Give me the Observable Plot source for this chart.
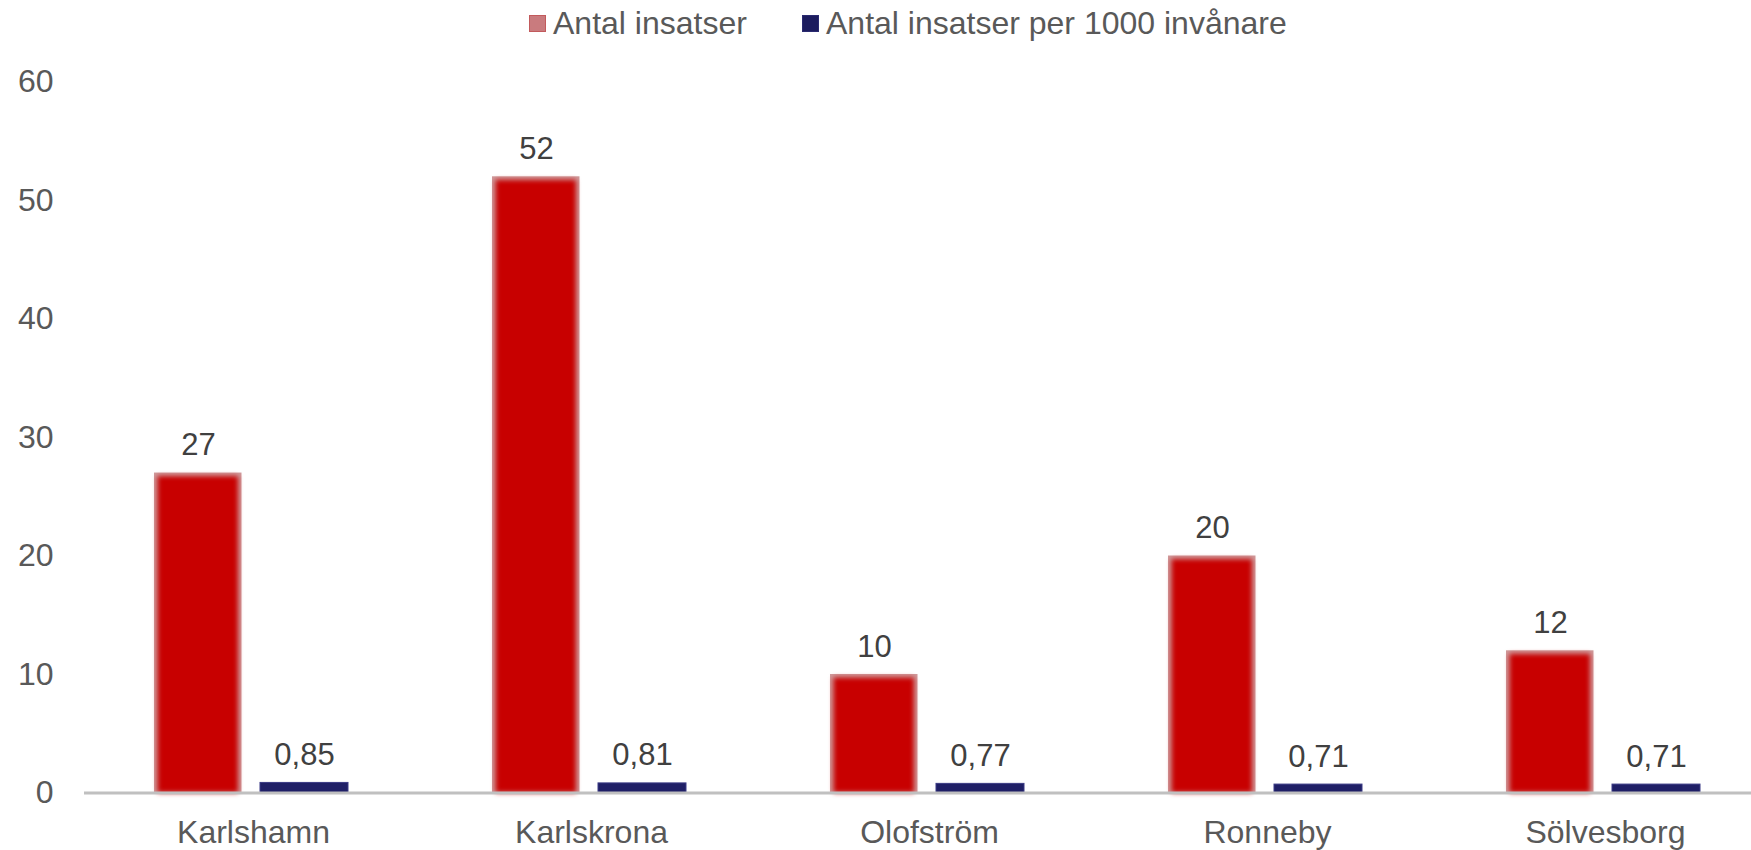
<!DOCTYPE html>
<html>
<head>
<meta charset="utf-8">
<script src="https://cdn.jsdelivr.net/npm/d3@7"></script>
<script src="https://cdn.jsdelivr.net/npm/@observablehq/plot@0.6"></script>
<style>
  html, body { margin: 0; padding: 0; background: #fff; }
  body { width: 1751px; height: 850px; overflow: hidden; position: relative; font-family: "Liberation Sans", Arial, sans-serif; }
  #legend { position: absolute; top: 0; left: 0; width: 1751px; height: 50px; }
  .item { position: absolute; top: 7px; font-size: 32px; line-height: 32px; color: #595959; white-space: nowrap; }
  .sw { position: absolute; top: 15px; width: 17px; height: 17px; box-sizing: border-box; }
  #chart { position: absolute; top: 50px; left: 0; }
</style>
</head>
<body>
<div id="legend"></div>
<div id="chart"></div>
<script>
// ---- data ----
const kommuner = ["Karlshamn", "Karlskrona", "Olofström", "Ronneby", "Sölvesborg"];
const antalInsatser = [27, 52, 10, 20, 12];
const perTusen = [0.85, 0.81, 0.77, 0.71, 0.71];
const seriesNames = ["Antal insatser", "Antal insatser per 1000 invånare"];
const yTicks = [0, 10, 20, 30, 40, 50, 60];

const red = kommuner.map((k, i) => ({kommun: k, value: antalInsatser[i]}));
const blue = kommuner.map((k, i) => ({kommun: k, value: perTusen[i]}));
const fmt = v => Number.isInteger(v) ? String(v) : v.toFixed(2).replace(".", ",");

// ---- legend ----
const legend = document.getElementById("legend");
legend.innerHTML = `
  <div class="sw" style="left:529px;background:#c97b7e;border:1px solid #c25a5c;"></div>
  <div class="item" style="left:553px;">${seriesNames[0]}</div>
  <div class="sw" style="left:802px;background:#1c1c5e;border:1px solid #2a2a70;"></div>
  <div class="item" style="left:826px;">${seriesNames[1]}</div>`;

// ---- chart ----
const plot = Plot.plot({
  width: 1751,
  height: 800,
  marginLeft: 84,
  marginRight: 0,
  marginTop: 31.5,
  marginBottom: 57.5,
  style: {fontSize: "32px", fontFamily: "'Liberation Sans', Arial, sans-serif", color: "#595959", background: "#fff", overflow: "visible"},
  x: {domain: kommuner, range: [84, 1774], padding: 0, label: null},
  y: {domain: [0, 60], label: null},
  marks: [
    Plot.axisY({ticks: yTicks, tickSize: 0, tickPadding: 31, fill: "#595959", label: null}),
    Plot.axisX({tickSize: 0, tickPadding: 27, fill: "#595959", label: null}),
    // red bars: outer soft edge + blurred inner fill
    Plot.barY(red, {x: "kommun", y: "value", fill: "#cf9a9b", insetLeft: 70, insetRight: 180.5}),
    Plot.barY(red, {x: "kommun", y: "value", fill: "#c80000", insetLeft: 73.5, insetRight: 184, insetTop: 3.5}),
    // blue bars
    Plot.barY(blue, {x: "kommun", y: "value", fill: "#1f1f66", stroke: "#3b3b85", strokeWidth: 1, insetLeft: 176, insetRight: 74}),
    Plot.ruleY([0], {stroke: "#c0c0c0", strokeWidth: 3}),
    Plot.text(red, {x: "kommun", y: "value", text: d => fmt(d.value), dx: -55, dy: -18, lineAnchor: "bottom", fill: "#404040", fontSize: 31}),
    Plot.text(blue, {x: "kommun", y: "value", text: d => fmt(d.value), dx: 51, dy: -18, lineAnchor: "bottom", fill: "#404040", fontSize: 31})
  ]
});

const svg = d3.select(plot);
svg.append("defs").html(`<filter id="soft" x="-10%" y="-10%" width="120%" height="120%"><feGaussianBlur stdDeviation="2.5"/></filter>`);
const bars = svg.selectAll('g[aria-label="bar"]').nodes();
if (bars[1]) bars[1].setAttribute("filter", "url(#soft)");
document.getElementById("chart").appendChild(plot);
</script>
</body>
</html>
